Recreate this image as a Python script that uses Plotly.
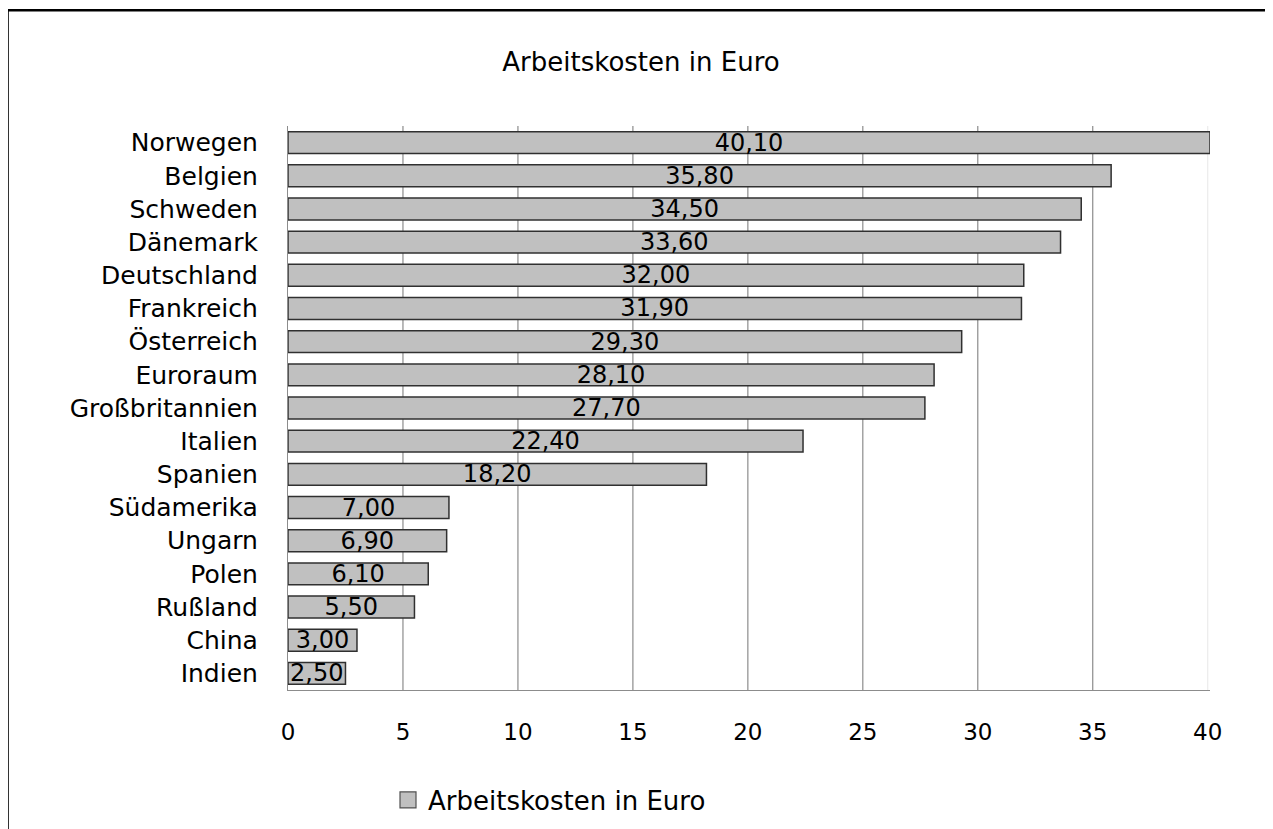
import plotly.graph_objects as go

countries = ["Norwegen", "Belgien", "Schweden", "Dänemark", "Deutschland", "Frankreich",
             "Österreich", "Euroraum", "Großbritannien", "Italien", "Spanien", "Südamerika",
             "Ungarn", "Polen", "Rußland", "China", "Indien"]
costs = [40.10, 35.80, 34.50, 33.60, 32.00, 31.90, 29.30, 28.10, 27.70, 22.40, 18.20,
         7.00, 6.90, 6.10, 5.50, 3.00, 2.50]
tick_vals = [0, 5, 10, 15, 20, 25, 30, 35, 40]
series_name = "Arbeitskosten in Euro"
title_text = "Arbeitskosten in Euro"

W, H = 1273, 829
L, R, T, B = 280, 71, 118, 147
pw, ph = W - L - R, H - T - B

def px_x(p):
    return (p - L) / pw

def px_y(p):
    return (H - B - p) / ph

FONT = "DejaVu Sans"
BAR_FILL = "#c0c0c0"
BAR_LINE = "#303030"

fig = go.Figure()
fig.add_trace(go.Bar(
    y=countries, x=costs, orientation="h", name=series_name,
    marker=dict(color=BAR_FILL, line=dict(color=BAR_LINE, width=1.5)),
    texttemplate="%{x:.2f}", textposition="inside", insidetextanchor="middle",
    constraintext="none", textangle=0,
    textfont=dict(family=FONT, size=24, color="black"),
    showlegend=False,
))
# legend entry with a larger square swatch
fig.add_trace(go.Scatter(
    x=[None], y=[None], mode="markers", name=series_name,
    marker=dict(symbol="square", size=21, color=BAR_FILL, line=dict(color="#505050", width=1.2)),
    showlegend=True, hoverinfo="skip",
))

shapes = []
for v in tick_vals[1:]:
    shapes.append(dict(type="line", xref="x", yref="paper", x0=v, x1=v, y0=0, y1=1,
                       line=dict(color="#8c8c8c" if v < 40 else "#ececec", width=1.2),
                       layer="below"))
shapes.append(dict(type="rect", xref="paper", yref="paper",
                   x0=px_x(-0.5), x1=px_x(1300), y0=px_y(2.2), y1=px_y(850),
                   line=dict(color="black", width=2.6), layer="above"))

fig.update_layout(
    width=W, height=H,
    margin=dict(l=L, r=R, t=T, b=B, autoexpand=False),
    paper_bgcolor="white", plot_bgcolor="white",
    separators=",.",
    font=dict(family=FONT, size=24, color="black"),
    title=dict(text=title_text, xref="container", x=633 / W, xanchor="center",
               y=1 - 54 / H, yanchor="middle",
               font=dict(family=FONT, size=26, color="black")),
    bargap=0.34,
    xaxis=dict(range=[0, 40.1], tickvals=tick_vals, showgrid=False, zeroline=False,
               showline=True, linecolor="#8c8c8c", linewidth=1.2,
               ticks="", ticklabelstandoff=21, tickfont=dict(size=23)),
    yaxis=dict(autorange="reversed", showgrid=False, zeroline=False,
               showline=True, linecolor="#8c8c8c", linewidth=1.2,
               ticks="", ticklabelstandoff=24, tickfont=dict(size=25)),
    legend=dict(orientation="h", x=px_x(380), xanchor="left", y=px_y(792), yanchor="middle",
                font=dict(family=FONT, size=26), bgcolor="rgba(0,0,0,0)", itemwidth=30),
    shapes=shapes,
)

fig.write_html("out.html")
